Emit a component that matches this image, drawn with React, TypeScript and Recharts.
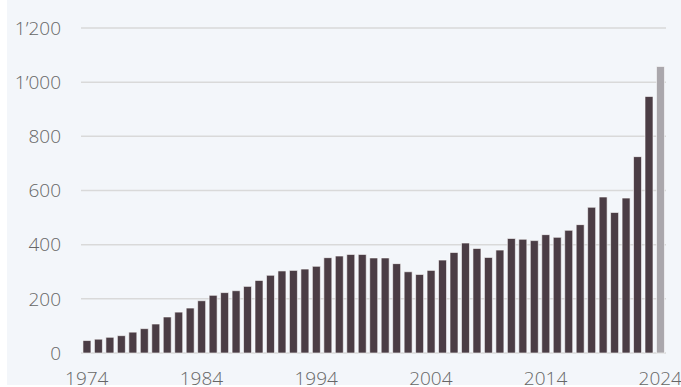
import React from 'react';
import { BarChart, Bar, XAxis, YAxis, CartesianGrid, Cell } from 'recharts';

const years = [
  1974, 1975, 1976, 1977, 1978, 1979, 1980, 1981, 1982, 1983,
  1984, 1985, 1986, 1987, 1988, 1989, 1990, 1991, 1992, 1993,
  1994, 1995, 1996, 1997, 1998, 1999, 2000, 2001, 2002, 2003,
  2004, 2005, 2006, 2007, 2008, 2009, 2010, 2011, 2012, 2013,
  2014, 2015, 2016, 2017, 2018, 2019, 2020, 2021, 2022, 2023,
  2024,
];

const values = [
  46, 51, 58, 64, 77, 90, 107, 133, 151, 166,
  193, 213, 223, 230, 246, 268, 287, 303, 305, 310,
  320, 352, 358, 364, 364, 351, 351, 330, 300, 290,
  305, 343, 371, 406, 386, 353, 380, 423, 420, 415,
  437, 427, 453, 474, 538, 576, 519, 572, 725, 947,
  1058,
];

const yTicks = [0, 200, 400, 600, 800, 1000, 1200];

const BAR_COLOR = '#4b3d45';
const LAST_COLOR = '#aaa7ac';
const BG = '#f3f6fa';

const data = years.map((year, i) => ({ year: String(year), value: values[i] }));

const formatThousands = (v: number) =>
  v >= 1000 ? `${Math.floor(v / 1000)}\u2019${String(v % 1000).padStart(3, '0')}` : String(v);

const tickStyle = { fill: '#666666', fontSize: 19, fontFamily: '"Open Sans", sans-serif', fontWeight: 300 };

export default function App() {
  return (
    <div style={{ position: 'relative', width: 681, height: 387, background: '#ffffff', overflow: 'hidden' }}>
      <style>{`body { margin: 0; }`}</style>
      {/* light panel behind the chart */}
      <div style={{ position: 'absolute', left: 7, top: 0, width: 674, height: 385, background: BG }} />
      <div style={{ position: 'absolute', left: 0, top: 0 }}>
        <BarChart
          width={681}
          height={387}
          data={data}
          margin={{ top: 28, right: 15, bottom: 4, left: 0 }}
          barCategoryGap="17%"
        >
          <CartesianGrid vertical={false} stroke="#d9d9d9" strokeWidth={1.5} />
          <XAxis
            dataKey="year"
            interval={9}
            axisLine={false}
            tickLine={false}
            tickSize={6}
            tickMargin={13}
            height={30}
            tick={tickStyle}
          />
          <YAxis
            domain={[0, 1200]}
            ticks={yTicks}
            width={81}
            axisLine={false}
            tickLine={false}
            tickSize={6}
            tickMargin={14}
            tickFormatter={formatThousands}
            tick={tickStyle}
          />
          <Bar dataKey="value" isAnimationActive={false} stroke="#ffffff" strokeWidth={0.6}>
            {data.map((d, i) => (
              <Cell key={d.year} fill={i === data.length - 1 ? LAST_COLOR : BAR_COLOR} />
            ))}
          </Bar>
        </BarChart>
      </div>
    </div>
  );
}
